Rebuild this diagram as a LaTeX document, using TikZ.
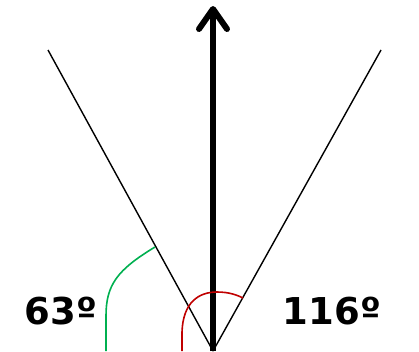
\documentclass[tikz,border=0pt]{standalone}
\usepackage{fontspec}
\setmainfont{DejaVu Sans}
\usepackage{xcolor}
\usetikzlibrary{arrows.meta}

\definecolor{arcgreen}{RGB}{0,176,80}
\definecolor{arcred}{RGB}{192,0,0}

\begin{document}
\begin{tikzpicture}[x=1pt,y=-1pt,
  ray/.style={line width=1.4pt},
  angle label/.style={font=\fontsize{37}{37}\selectfont\bfseries}]
\useasboundingbox (0,0) rectangle (419,351);
%% Points %%

\coordinate (apex) at (213,351);
\coordinate (lefttop) at (48,50);
\coordinate (righttop) at (381,50);
\coordinate (arrowtip) at (213,6);
\coordinate (greenstart) at (155,247);
\coordinate (greenend) at (106,351);
\coordinate (redstart) at (182,351);
\coordinate (redend) at (243,298);

%% Rays %%

\draw[ray] (apex) -- (lefttop);
\draw[ray] (apex) -- (righttop);
\draw[line width=6pt, -{Straight Barb[length=20pt,width=28pt,round]}] (apex) -- (arrowtip);

%% Arcs %%

\draw[arcgreen, line width=1.6pt] (greenstart) .. controls (117,270) and (106,285) .. (106,316) -- (greenend);
\draw[arcred, line width=1.6pt] (redstart) -- (182,332) .. controls (183,302) and (199,292) .. (217,292) .. controls (229,292) and (237,295) .. (redend);

%% Labels %%

\node[angle label] (leftangle) at (61,311) {63º};
\node[angle label] (rightangle) at (332,311) {116º};

\end{tikzpicture}
\end{document}
